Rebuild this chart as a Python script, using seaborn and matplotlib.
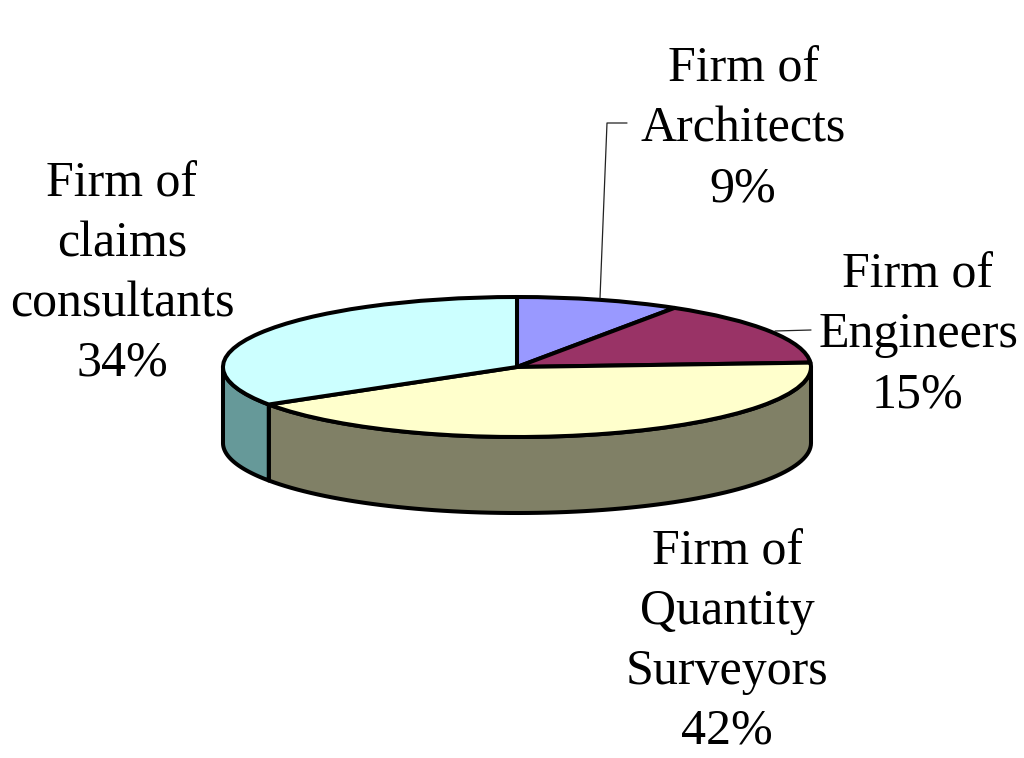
import numpy as np
import matplotlib
matplotlib.use("Agg")
import matplotlib.pyplot as plt
import seaborn as sns

categories = ["Firm of\nArchitects", "Firm of\nEngineers", "Firm of\nQuantity\nSurveyors", "Firm of\nclaims\nconsultants"]
shares = [9, 15, 42, 34]
top_colors = ["#9999FF", "#993366", "#FFFFCC", "#CCFFFF"]
side_colors = ["#5C5C99", "#5C1F3D", "#808066", "#669999"]

W, H = 1024, 758
CX, CY, RX, RY, DEPTH = 517, 367, 294, 70, 76
LW = 2.9

sns.set_theme(style="white")
fig = plt.figure(figsize=(W / 100, H / 100), dpi=100, facecolor="white")
ax = fig.add_axes([0, 0, 1, 1])


def px(x, y):
    return (x - CX) / RX, (CY - y) / RY


wall = DEPTH / RY
edges = np.cumsum([0] + shares) / 100.0
# Side wall: visible from the right extreme (25%) to the left extreme (75%)
for i in range(len(shares)):
    lo, hi = max(edges[i], 0.25), min(edges[i + 1], 0.75)
    if hi <= lo:
        continue
    t = np.linspace(lo, hi, 80) * 2 * np.pi
    xs, ys = np.sin(t), np.cos(t)
    ax.fill(np.r_[xs, xs[::-1]], np.r_[ys, ys[::-1] - wall],
            facecolor=side_colors[i], edgecolor="black", linewidth=LW,
            joinstyle="round", zorder=1)

wedges, _ = ax.pie(shares, colors=top_colors, startangle=90, counterclock=False,
                   radius=1, center=(0, 0),
                   wedgeprops=dict(edgecolor="black", linewidth=LW, joinstyle="round", zorder=2))
for w in wedges:
    w.set_zorder(2)

ax.set_aspect("auto")
ax.set_xlim(px(0, 0)[0], px(W, 0)[0])
ax.set_ylim(px(0, H)[1], px(0, 0)[1])
ax.axis("off")

label_pos = [(743, 129), (918, 335), (727, 642), (122, 274)]
for name, share, (x, y) in zip(categories, shares, label_pos):
    ax.text(*px(x, y), f"{name}\n{share}%", ha="center", va="center",
            family="Liberation Serif", fontsize=36, color="black",
            linespacing=1.375, zorder=5)

# Leader lines
ax.plot(*zip(px(600, 298), px(607, 123), px(627, 123)), color="#222222", lw=0.9, zorder=3)
ax.plot(*zip(px(775, 331), px(811, 330)), color="#222222", lw=0.9, zorder=3)

fig.savefig("out.png", dpi=100, facecolor="white")
